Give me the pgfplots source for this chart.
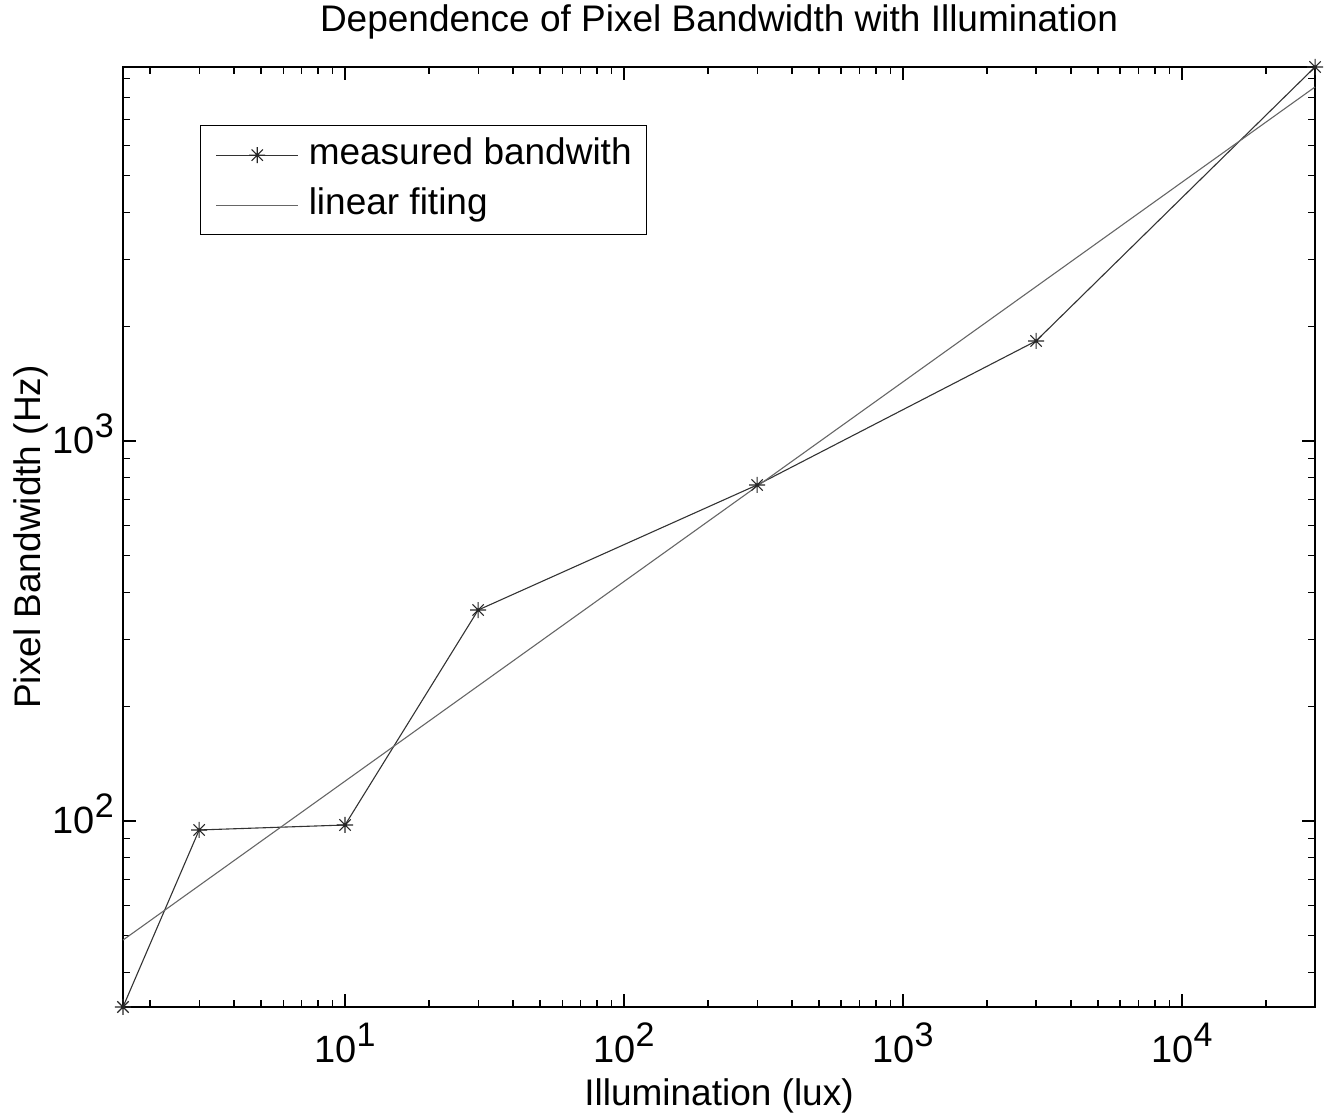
\documentclass[border=0pt]{standalone}
\usepackage{pgfplots}
\pgfplotsset{compat=1.18}
\usepackage{fontspec}
\setmainfont{Liberation Sans}
\pgfdeclareplotmark{mstar}{%
 \pgfpathmoveto{\pgfqpoint{0pt}{\pgfplotmarksize}}\pgfpathlineto{\pgfqpoint{0pt}{-\pgfplotmarksize}}%
 \pgfpathmoveto{\pgfqpoint{\pgfplotmarksize}{0pt}}\pgfpathlineto{\pgfqpoint{-\pgfplotmarksize}{0pt}}%
 \pgfpathmoveto{\pgfqpoint{0.7071\pgfplotmarksize}{0.7071\pgfplotmarksize}}\pgfpathlineto{\pgfqpoint{-0.7071\pgfplotmarksize}{-0.7071\pgfplotmarksize}}%
 \pgfpathmoveto{\pgfqpoint{-0.7071\pgfplotmarksize}{0.7071\pgfplotmarksize}}\pgfpathlineto{\pgfqpoint{0.7071\pgfplotmarksize}{-0.7071\pgfplotmarksize}}%
 \pgfusepathqstroke}
\newcommand\ex[1]{10\raisebox{16bp}{\fontsize{34bp}{34bp}\selectfont #1}}
\begin{document}
\begin{tikzpicture}
\useasboundingbox (-123bp,-112bp) rectangle (1206bp,1007bp);
\begin{axis}[
  at={(0,0)}, anchor=south west,
  scale only axis, width=1192bp, height=940bp,
  xmode=log, ymode=log,
  xmin=1.6, xmax=30000, ymin=32.4, ymax=9640,
  font=\fontsize{37bp}{44bp}\selectfont,
  xtick={10,100,1000,10000},
  xticklabels={\ex{1},\ex{2},\ex{3},\ex{4}},
  ytick={100,1000},
  yticklabels={\ex{2},\ex{3}},
  minor xtick={2,3,4,5,6,7,8,9,20,30,40,50,60,70,80,90,200,300,400,500,600,700,800,900,2000,3000,4000,5000,6000,7000,8000,9000,20000},
  minor ytick={40,50,60,70,80,90,200,300,400,500,600,700,800,900,2000,3000,4000,5000,6000,7000,8000,9000},
  major tick length=13bp, minor tick length=7bp,
  tick align=inside,
  every tick/.style={black, line width=1.2bp},
  axis line style={black, line width=1.3bp},
  xticklabel style={anchor=base, inner sep=0pt, yshift=-56bp, font=\fontsize{38bp}{44bp}\selectfont},
  yticklabel style={anchor=base east, inner sep=0pt, xshift=-9bp, yshift=-13bp, font=\fontsize{38bp}{44bp}\selectfont},
  title={Dependence of Pixel Bandwidth with Illumination},
  title style={at={(axis description cs:0.5,1.0309)}, anchor=base, inner sep=0pt},
  xlabel={Illumination (lux)},
  xlabel style={at={(axis description cs:0.5,-0.1043)}, anchor=base, inner sep=0pt},
  ylabel={Pixel Bandwidth (Hz)},
  ylabel style={at={(axis description cs:-0.0688,0.5)}, anchor=base, rotate=0, inner sep=0pt},
  clip=false,
  legend cell align=left,
  legend image code/.code={\draw[mark repeat=2,mark phase=2,#1] plot coordinates {(0bp,0bp) (41bp,0bp) (82bp,0bp)};},
  legend style={at={(axis description cs:0.0646,0.9383)}, anchor=north west,
    draw=black, line width=1.3bp, inner xsep=15bp, inner ysep=12bp,
    row sep=15bp, column sep=10bp,
    nodes={inner sep=0pt, text height=27bp, text depth=8bp},
    font=\fontsize{37bp}{44bp}\selectfont},
]
\addplot[black!80, line width=1.1bp, mark=mstar, mark size=8bp, mark options={line width=1.1bp, black!85}]
 coordinates {(1.6,32.4) (3,94.7) (10,97.6) (30,359) (300,766) (3000,1833) (30000,9640)};
\addlegendentry{measured bandwith}
\addplot[black!60, line width=1.1bp]
 coordinates {(1.6,48.6) (30000,8540)};
\addlegendentry{linear fiting}
\end{axis}
\end{tikzpicture}
\end{document}
